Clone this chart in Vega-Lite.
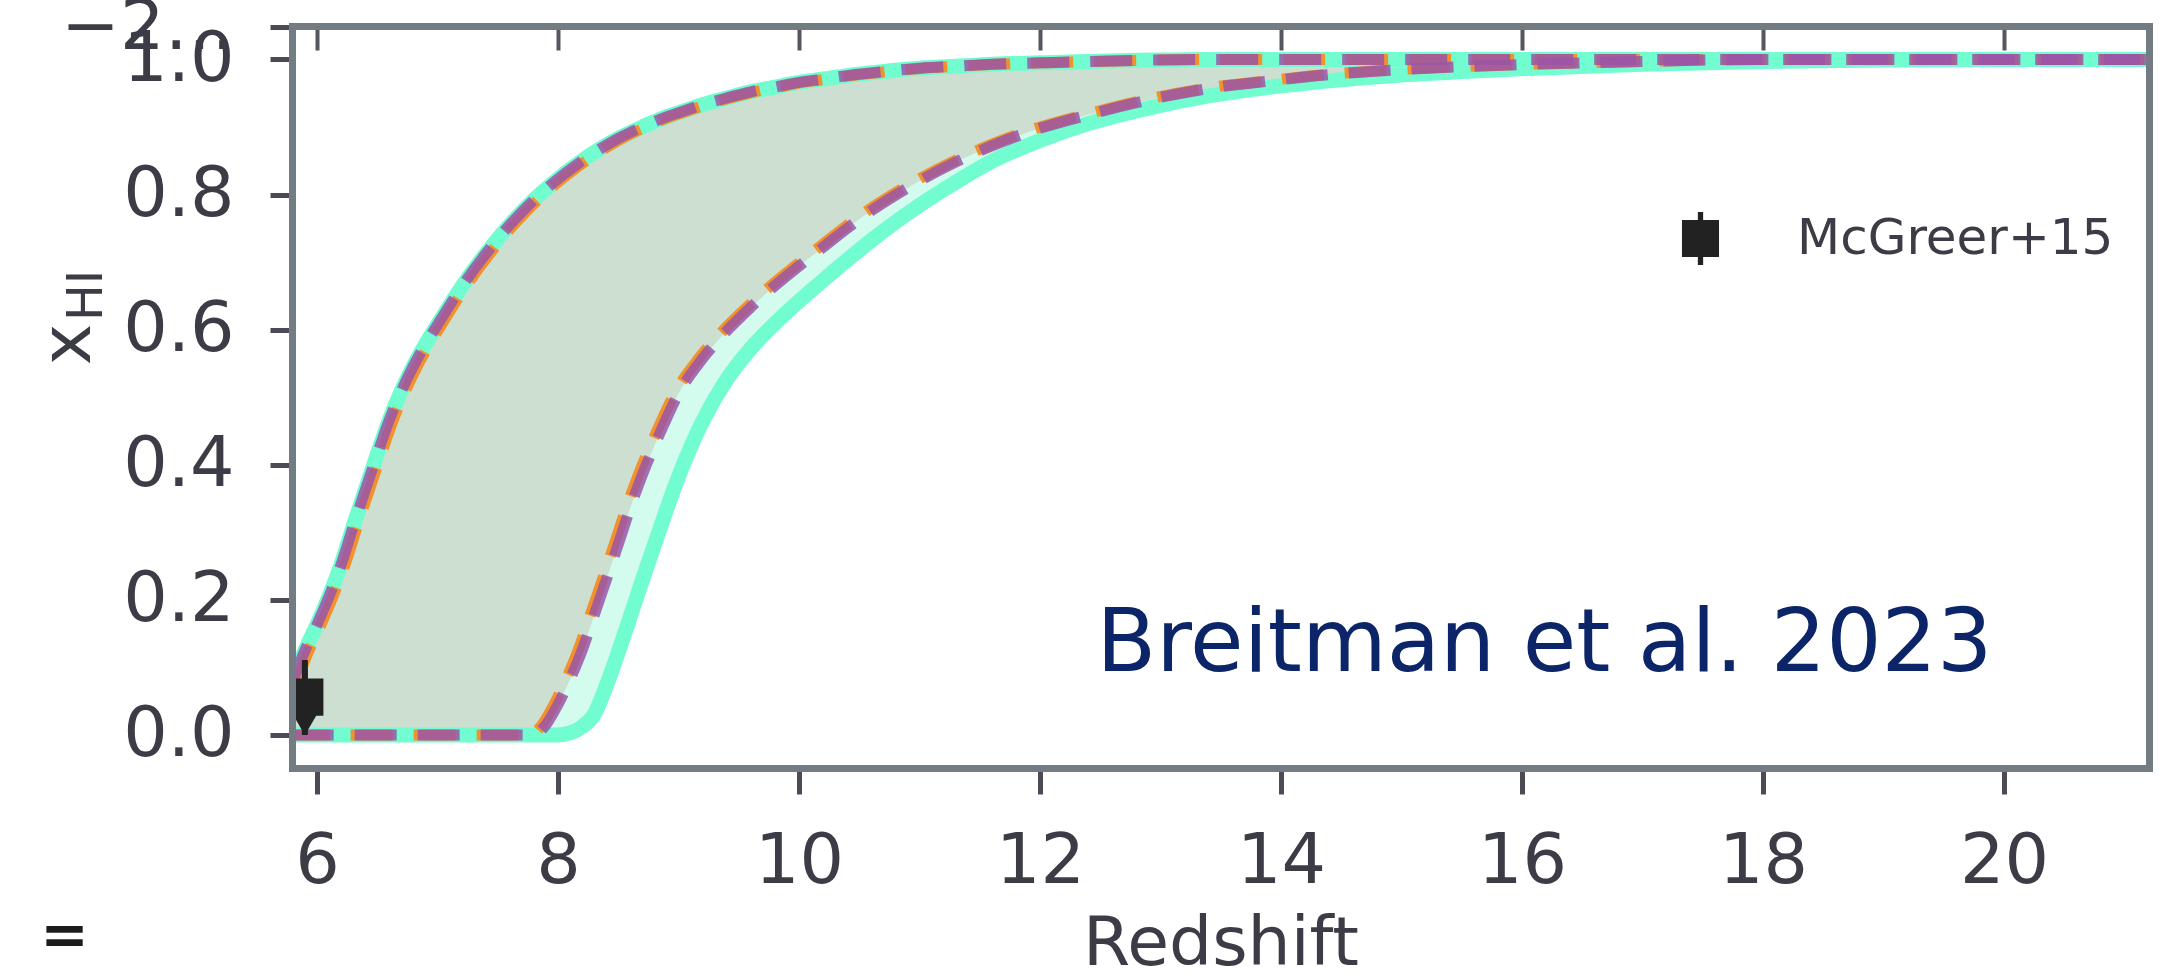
{
  "$schema": "https://vega.github.io/schema/vega-lite/v6.json",
  "width": 1857,
  "height": 742,
  "autosize": {"type": "none"},
  "padding": {"left": 292, "top": 26, "right": 19, "bottom": 203},
  "background": "white",
  "config": {"view": {"stroke": null}, "font": "DejaVu Sans"},
  "datasets": {
    "curves": [
      {"z": 5.79, "upper": 0.075, "inner_lower": 0, "outer_lower": 0},
      {"z": 5.9, "upper": 0.125, "inner_lower": 0, "outer_lower": 0},
      {"z": 6.0, "upper": 0.163, "inner_lower": 0, "outer_lower": 0},
      {"z": 6.1, "upper": 0.205, "inner_lower": 0, "outer_lower": 0},
      {"z": 6.2, "upper": 0.252, "inner_lower": 0, "outer_lower": 0},
      {"z": 6.3, "upper": 0.308, "inner_lower": 0, "outer_lower": 0},
      {"z": 6.4, "upper": 0.362, "inner_lower": 0, "outer_lower": 0},
      {"z": 6.5, "upper": 0.415, "inner_lower": 0, "outer_lower": 0},
      {"z": 6.6, "upper": 0.466, "inner_lower": 0, "outer_lower": 0},
      {"z": 6.7, "upper": 0.509, "inner_lower": 0, "outer_lower": 0},
      {"z": 6.8, "upper": 0.546, "inner_lower": 0, "outer_lower": 0},
      {"z": 6.9, "upper": 0.578, "inner_lower": 0, "outer_lower": 0},
      {"z": 7.0, "upper": 0.607, "inner_lower": 0, "outer_lower": 0},
      {"z": 7.2, "upper": 0.663, "inner_lower": 0, "outer_lower": 0},
      {"z": 7.4, "upper": 0.712, "inner_lower": 0, "outer_lower": 0},
      {"z": 7.6, "upper": 0.755, "inner_lower": 0, "outer_lower": 0},
      {"z": 7.8, "upper": 0.792, "inner_lower": 0, "outer_lower": 0},
      {"z": 7.9, "upper": 0.808, "inner_lower": 0.015, "outer_lower": 0},
      {"z": 8.0, "upper": 0.823, "inner_lower": 0.045, "outer_lower": 0},
      {"z": 8.1, "upper": 0.837, "inner_lower": 0.082, "outer_lower": 0.003},
      {"z": 8.2, "upper": 0.850, "inner_lower": 0.125, "outer_lower": 0.012},
      {"z": 8.3, "upper": 0.862, "inner_lower": 0.177, "outer_lower": 0.030},
      {"z": 8.4, "upper": 0.873, "inner_lower": 0.229, "outer_lower": 0.072},
      {"z": 8.5, "upper": 0.883, "inner_lower": 0.282, "outer_lower": 0.122},
      {"z": 8.6, "upper": 0.892, "inner_lower": 0.336, "outer_lower": 0.175},
      {"z": 8.7, "upper": 0.900, "inner_lower": 0.385, "outer_lower": 0.229},
      {"z": 8.8, "upper": 0.908, "inner_lower": 0.428, "outer_lower": 0.281},
      {"z": 8.9, "upper": 0.915, "inner_lower": 0.468, "outer_lower": 0.333},
      {"z": 9.0, "upper": 0.921, "inner_lower": 0.505, "outer_lower": 0.382},
      {"z": 9.2, "upper": 0.933, "inner_lower": 0.557, "outer_lower": 0.464},
      {"z": 9.4, "upper": 0.943, "inner_lower": 0.598, "outer_lower": 0.526},
      {"z": 9.6, "upper": 0.952, "inner_lower": 0.633, "outer_lower": 0.572},
      {"z": 9.8, "upper": 0.959, "inner_lower": 0.665, "outer_lower": 0.609},
      {"z": 10.0, "upper": 0.966, "inner_lower": 0.694, "outer_lower": 0.642},
      {"z": 10.2, "upper": 0.971, "inner_lower": 0.722, "outer_lower": 0.673},
      {"z": 10.4, "upper": 0.976, "inner_lower": 0.750, "outer_lower": 0.703},
      {"z": 10.6, "upper": 0.980, "inner_lower": 0.776, "outer_lower": 0.732},
      {"z": 10.8, "upper": 0.984, "inner_lower": 0.799, "outer_lower": 0.759},
      {"z": 11.0, "upper": 0.987, "inner_lower": 0.820, "outer_lower": 0.784},
      {"z": 11.3, "upper": 0.990, "inner_lower": 0.848, "outer_lower": 0.818},
      {"z": 11.6, "upper": 0.993, "inner_lower": 0.872, "outer_lower": 0.849},
      {"z": 12.0, "upper": 0.995, "inner_lower": 0.898, "outer_lower": 0.880},
      {"z": 12.4, "upper": 0.997, "inner_lower": 0.918, "outer_lower": 0.905},
      {"z": 12.9, "upper": 0.999, "inner_lower": 0.940, "outer_lower": 0.928},
      {"z": 13.4, "upper": 1.0, "inner_lower": 0.957, "outer_lower": 0.946},
      {"z": 14.0, "upper": 1.0, "inner_lower": 0.970, "outer_lower": 0.961},
      {"z": 14.5, "upper": 1.0, "inner_lower": 0.979, "outer_lower": 0.970},
      {"z": 15.0, "upper": 1.0, "inner_lower": 0.985, "outer_lower": 0.977},
      {"z": 15.6, "upper": 1.0, "inner_lower": 0.990, "outer_lower": 0.983},
      {"z": 16.1, "upper": 1.0, "inner_lower": 0.993, "outer_lower": 0.987},
      {"z": 17.0, "upper": 1.0, "inner_lower": 0.997, "outer_lower": 0.993},
      {"z": 18.0, "upper": 1.0, "inner_lower": 1.0, "outer_lower": 0.997},
      {"z": 19.0, "upper": 1.0, "inner_lower": 1.0, "outer_lower": 0.999},
      {"z": 20.0, "upper": 1.0, "inner_lower": 1.0, "outer_lower": 1.0},
      {"z": 21.2, "upper": 1.0, "inner_lower": 1.0, "outer_lower": 1.0}
    ],
    "mcgreer": [
      {"z": 5.9, "xhi": 0.056, "err_hi": 0.111, "limit": 0.0, "source": "McGreer+15"}
    ]
  },
  "layer": [
    {
      "data": {"name": "curves"},
      "mark": {"type": "area", "interpolate": "monotone", "color": "#d3fbee", "clip": true},
      "encoding": {
        "x": {
          "field": "z", "type": "quantitative",
          "scale": {"domain": [5.793, 21.204], "nice": false, "zero": false},
          "axis": {
            "orient": "bottom", "values": [6, 8, 10, 12, 14, 16, 18, 20], "format": "d",
            "labelFontSize": 70, "labelColor": "#3c3c46", "labelPadding": 33, "labelOverlap": false, "labelFlush": false,
            "tickSize": 26, "tickWidth": 5, "tickColor": "#4a4b55",
            "domainColor": "#737b83", "domainWidth": 7, "domainCap": "square", "grid": false,
            "title": "Redshift", "titleFontSize": 68, "titleFontWeight": "normal", "titleColor": "#3c3c46",
            "titleX": 928.5, "titleY": 196, "titleAlign": "center", "titleBaseline": "alphabetic", "zindex": 1
          }
        },
        "y": {
          "field": "upper", "type": "quantitative",
          "scale": {"domain": [-0.0489, 1.0495], "nice": false, "zero": false},
          "axis": {
            "orient": "left", "values": [0, 0.2, 0.4, 0.6, 0.8, 1.0, 1.048],
            "labelExpr": "datum.value > 1.02 ? '−200' : format(datum.value, '.1f')",
            "labelFontSize": 70, "labelColor": "#3c3c46", "labelPadding": 36, "labelOverlap": false, "labelFlush": false, "labelBound": false,
            "tickSize": 22, "tickWidth": 5, "tickColor": "#4a4b55",
            "domainColor": "#737b83", "domainWidth": 7, "domainCap": "square", "grid": false,
            "title": "x", "titleFontSize": 70, "titleFontWeight": "normal", "titleColor": "#3c3c46",
            "titleAngle": 270, "titleX": -203, "titleY": 318, "titleAlign": "center", "titleBaseline": "alphabetic", "zindex": 1
          }
        },
        "y2": {"field": "outer_lower"}
      }
    },
    {
      "data": {"name": "curves"},
      "mark": {"type": "area", "interpolate": "monotone", "color": "#cddfd0", "clip": true},
      "encoding": {
        "x": {
          "field": "z", "type": "quantitative",
          "axis": {
            "orient": "top", "values": [6, 8, 10, 12, 14, 16, 18, 20], "labels": false,
            "tickSize": -24, "tickWidth": 4, "tickColor": "#55575f",
            "domainColor": "#737b83", "domainWidth": 7, "domainCap": "square", "grid": false,
            "title": null, "zindex": 1
          }
        },
        "y": {
          "field": "upper", "type": "quantitative",
          "axis": {
            "orient": "right", "labels": false, "ticks": false,
            "domainColor": "#737b83", "domainWidth": 7, "domainCap": "square", "grid": false,
            "title": null, "zindex": 1
          }
        },
        "y2": {"field": "inner_lower"}
      }
    },
    {
      "data": {"name": "curves"},
      "mark": {"type": "line", "interpolate": "monotone", "color": "#72fdd0", "strokeWidth": 15, "clip": true},
      "encoding": {
        "x": {"field": "z", "type": "quantitative", "axis": null},
        "y": {"field": "upper", "type": "quantitative", "axis": null}
      }
    },
    {
      "data": {"name": "curves"},
      "mark": {"type": "line", "interpolate": "monotone", "color": "#72fdd0", "strokeWidth": 15, "clip": true},
      "encoding": {
        "x": {"field": "z", "type": "quantitative", "axis": null},
        "y": {"field": "outer_lower", "type": "quantitative", "axis": null}
      }
    },
    {
      "data": {"name": "curves"},
      "mark": {"type": "line", "interpolate": "monotone", "color": "#f2922c", "strokeWidth": 11, "strokeDash": [42, 21], "xOffset": 4, "clip": true},
      "encoding": {
        "x": {"field": "z", "type": "quantitative", "axis": null},
        "y": {"field": "upper", "type": "quantitative", "axis": null}
      }
    },
    {
      "data": {"name": "curves"},
      "mark": {"type": "line", "interpolate": "monotone", "color": "#f2922c", "strokeWidth": 11, "strokeDash": [42, 21], "xOffset": -4, "clip": true},
      "encoding": {
        "x": {"field": "z", "type": "quantitative", "axis": null},
        "y": {"field": "inner_lower", "type": "quantitative", "axis": null}
      }
    },
    {
      "data": {"name": "curves"},
      "mark": {"type": "line", "interpolate": "monotone", "color": "#9a55a8", "opacity": 0.85, "strokeWidth": 11, "strokeDash": [42, 21], "clip": true},
      "encoding": {
        "x": {"field": "z", "type": "quantitative", "axis": null},
        "y": {"field": "upper", "type": "quantitative", "axis": null}
      }
    },
    {
      "data": {"name": "curves"},
      "mark": {"type": "line", "interpolate": "monotone", "color": "#9a55a8", "opacity": 0.85, "strokeWidth": 11, "strokeDash": [42, 21], "clip": true},
      "encoding": {
        "x": {"field": "z", "type": "quantitative", "axis": null},
        "y": {"field": "inner_lower", "type": "quantitative", "axis": null}
      }
    },
    {
      "data": {"name": "mcgreer"},
      "mark": {"type": "rule", "color": "#222222", "strokeWidth": 6, "clip": true},
      "encoding": {
        "x": {"field": "z", "type": "quantitative", "axis": null},
        "y": {"field": "limit", "type": "quantitative", "axis": null},
        "y2": {"field": "err_hi"}
      }
    },
    {
      "data": {"name": "mcgreer"},
      "mark": {"type": "point", "shape": "triangle-down", "filled": true, "color": "#222222", "opacity": 1, "size": 560, "yOffset": -10, "clip": true},
      "encoding": {
        "x": {"field": "z", "type": "quantitative", "axis": null},
        "y": {"field": "limit", "type": "quantitative", "axis": null}
      }
    },
    {
      "data": {"name": "mcgreer"},
      "mark": {"type": "point", "filled": true, "color": "#222222", "opacity": 1, "size": 2800, "strokeWidth": 0, "clip": true},
      "encoding": {
        "x": {"field": "z", "type": "quantitative", "axis": null},
        "y": {"field": "xhi", "type": "quantitative", "axis": null},
        "shape": {
          "field": "source", "type": "nominal",
          "scale": {"range": ["M-0.7,-0.7L0.7,-0.7L0.7,0.7L-0.7,0.7Z M-0.1,-1L0.1,-1L0.1,1L-0.1,1Z"]},
          "legend": {
            "orient": "none", "legendX": 1382, "legendY": 186, "title": null, "padding": 0,
            "labelFontSize": 50, "labelColor": "#3c3c46", "labelOffset": 70, "labelLimit": 2000,
            "symbolSize": 2800, "symbolFillColor": "#222222", "symbolStrokeColor": "#222222", "symbolStrokeWidth": 0, "symbolOpacity": 1
          }
        }
      }
    },
    {
      "data": {"values": [{"label": "Breitman et al. 2023"}]},
      "mark": {"type": "text", "align": "left", "baseline": "alphabetic", "fontSize": 87, "color": "#0c2468"},
      "encoding": {
        "x": {"datum": 12.47, "type": "quantitative", "axis": null},
        "y": {"datum": 0.094, "type": "quantitative", "axis": null},
        "text": {"field": "label"}
      }
    },
    {
      "data": {"values": [{"label": "HI"}]},
      "mark": {"type": "text", "align": "center", "baseline": "alphabetic", "angle": 270, "fontSize": 49, "color": "#3c3c46"},
      "encoding": {
        "x": {"datum": 4.216, "type": "quantitative", "axis": null},
        "y": {"datum": 0.6506, "type": "quantitative", "axis": null},
        "text": {"field": "label"}
      }
    },
    {
      "data": {"values": [{"label": "="}]},
      "mark": {"type": "text", "align": "center", "baseline": "middle", "fontSize": 58, "fontWeight": "bold", "color": "#1c1c1c"},
      "encoding": {
        "x": {"datum": 3.905, "type": "quantitative", "axis": null},
        "y": {"datum": -0.299, "type": "quantitative", "axis": null},
        "text": {"field": "label"}
      }
    }
  ],
  "resolve": {"axis": {"x": "independent", "y": "independent"}}
}
